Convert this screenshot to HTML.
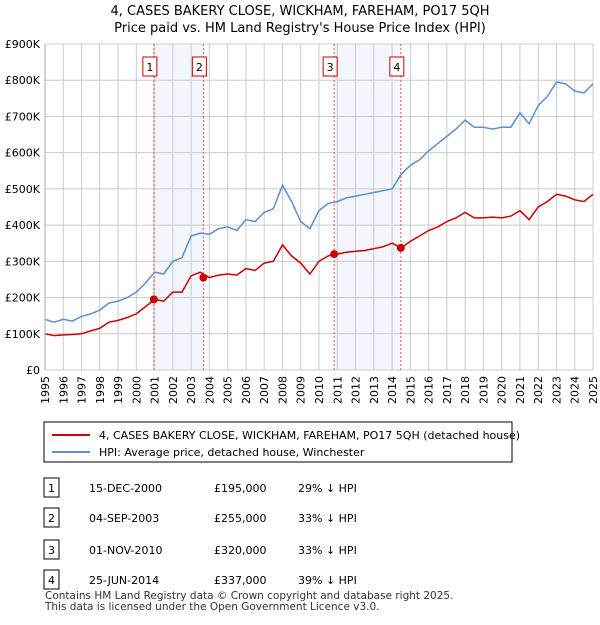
<!DOCTYPE html>
<html><head><meta charset="utf-8"><style>
body{margin:0;background:#fff;font-family:"Liberation Sans","DejaVu Sans",sans-serif;}
svg text{font-family:"DejaVu Sans","Liberation Sans",sans-serif;}
</style></head><body>
<svg id="c" width="600" height="620" xmlns="http://www.w3.org/2000/svg">
<text x="300" y="15" text-anchor="middle" font-size="13">4, CASES BAKERY CLOSE, WICKHAM, FAREHAM, PO17 5QH</text>
<text x="300" y="32" text-anchor="middle" font-size="13">Price paid vs. HM Land Registry's House Price Index (HPI)</text>
<g id="grid"></g><g id="series"></g><g id="marks"></g><g id="axes"></g>
<g>
<rect x="44" y="422" width="468" height="40" fill="#fff" stroke="#000" stroke-width="1"/>
<line x1="52" y1="435" x2="90" y2="435" stroke="#cc0000" stroke-width="2"/>
<text x="99" y="439" font-size="11">4, CASES BAKERY CLOSE, WICKHAM, FAREHAM, PO17 5QH (detached house)</text>
<line x1="52" y1="452" x2="90" y2="452" stroke="#5b8fd0" stroke-width="2"/>
<text x="99" y="456" font-size="11">HPI: Average price, detached house, Winchester</text>
</g>
<g id="table" font-size="11"></g>
<text x="45" y="599" font-size="10.5" fill="#333">Contains HM Land Registry data © Crown copyright and database right 2025.</text>
<text x="45" y="610" font-size="10.5" fill="#333">This data is licensed under the Open Government Licence v3.0.</text>
</svg>
<script>
const years=[];for(let y=1995;y<=2025;y+=0.5)years.push(y);
const hpiValues=[140,132,140,135,148,155,165,185,190,200,215,240,270,265,300,310,370,378,375,390,395,385,415,410,435,445,510,465,410,390,440,460,465,475,480,485,490,495,500,540,565,580,605,625,645,665,690,670,670,665,670,670,710,680,730,755,795,790,770,765,790];
const priceValues=[100,95,97,98,100,108,115,132,137,145,155,175,195,190,215,215,260,270,255,262,265,262,280,275,295,300,345,315,295,265,300,315,320,325,328,330,335,340,350,337,355,370,385,395,410,420,435,420,420,422,420,425,440,415,450,465,485,480,470,465,485];
const saleDates=[2000.96,2003.67,2010.83,2014.48];
const salePrices=[195,255,320,337];
const saleLabels=["1","2","3","4"];
const saleDateText=["15-DEC-2000","04-SEP-2003","01-NOV-2010","25-JUN-2014"];
const salePriceText=["£195,000","£255,000","£320,000","£337,000"];
const saleHpiText=["29% ↓ HPI","33% ↓ HPI","33% ↓ HPI","39% ↓ HPI"];
const yTicks=[0,100,200,300,400,500,600,700,800,900];
const yTickLabels=["£0","£100K","£200K","£300K","£400K","£500K","£600K","£700K","£800K","£900K"];
const NS="http://www.w3.org/2000/svg";
const X0=45,X1=593,Y0=370,Y1=44;
const sx=y=>X0+(y-1995)/30*(X1-X0);
const sy=v=>Y0-v/900*(Y0-Y1);
function mk(t,a,p){const e=document.createElementNS(NS,t);for(const k in a)e.setAttribute(k,a[k]);p.appendChild(e);return e;}
const grid=document.getElementById('grid'),axes=document.getElementById('axes'),ser=document.getElementById('series'),marks=document.getElementById('marks'),tbl=document.getElementById('table');
for(let i=0;i<4;i+=2){const r=mk('rect',{x:sx(saleDates[i]),y:Y1,width:sx(saleDates[i+1])-sx(saleDates[i]),height:Y0-Y1,fill:'#f3f6fd'},grid);

}
for(let y=1995;y<=2025;y++){mk('line',{x1:sx(y),x2:sx(y),y1:Y1,y2:Y0,stroke:'#ccc','stroke-width':1},grid);
const t=mk('text',{x:0,y:0,'font-size':11,'text-anchor':'end',transform:`translate(${sx(y)+4},${Y0+6}) rotate(-90)`},axes);t.textContent=y;

}
yTicks.forEach((v,i)=>{mk('line',{x1:X0,x2:X1,y1:sy(v),y2:sy(v),stroke:'#ccc','stroke-width':1},grid);
const t=mk('text',{x:X0-5,y:sy(v)+4,'font-size':11,'text-anchor':'end'},axes);t.textContent=yTickLabels[i];

});
function line(vals,col,name){const d=vals.map((v,i)=>(i?'L':'M')+sx(years[i]).toFixed(1)+','+sy(v).toFixed(1)).join('');
const p=mk('path',{d:d,fill:'none',stroke:col,'stroke-width':1.5},ser);

}
line(hpiValues,'#5b8fd0','hpi-line');
line(priceValues,'#cc0000','price-paid-line');
saleDates.forEach((d,i)=>{const x=sx(d);
mk('line',{x1:x,x2:x,y1:Y1,y2:Y0,stroke:'#e55','stroke-width':1,'stroke-dasharray':'2,2'},marks);
const c=mk('circle',{cx:x,cy:sy(salePrices[i]),r:4,fill:'#cc0000'},marks);


const b=mk('rect',{x:x-11,y:57,width:14,height:19,fill:'#fff',stroke:'#cc0000'},marks);


const t=mk('text',{x:x-4,y:71,'font-size':11,'text-anchor':'middle'},marks);t.textContent=saleLabels[i];
const ry=[488,518,550,580][i];
const tb=mk('rect',{x:44,y:ry-10,width:15,height:19,fill:'#fff',stroke:'#000'},tbl);


const n=mk('text',{x:51.5,y:ry+4,'text-anchor':'middle'},tbl);n.textContent=saleLabels[i];
const a=mk('text',{x:89,y:ry+4},tbl);a.textContent=saleDateText[i];
const p=mk('text',{x:214,y:ry+4},tbl);p.textContent=salePriceText[i];
const h=mk('text',{x:298,y:ry+4},tbl);h.textContent=saleHpiText[i];});
mk('line',{x1:X0,x2:X0,y1:Y1,y2:Y0,stroke:'#aaa'},axes);
</script>
</body></html>
